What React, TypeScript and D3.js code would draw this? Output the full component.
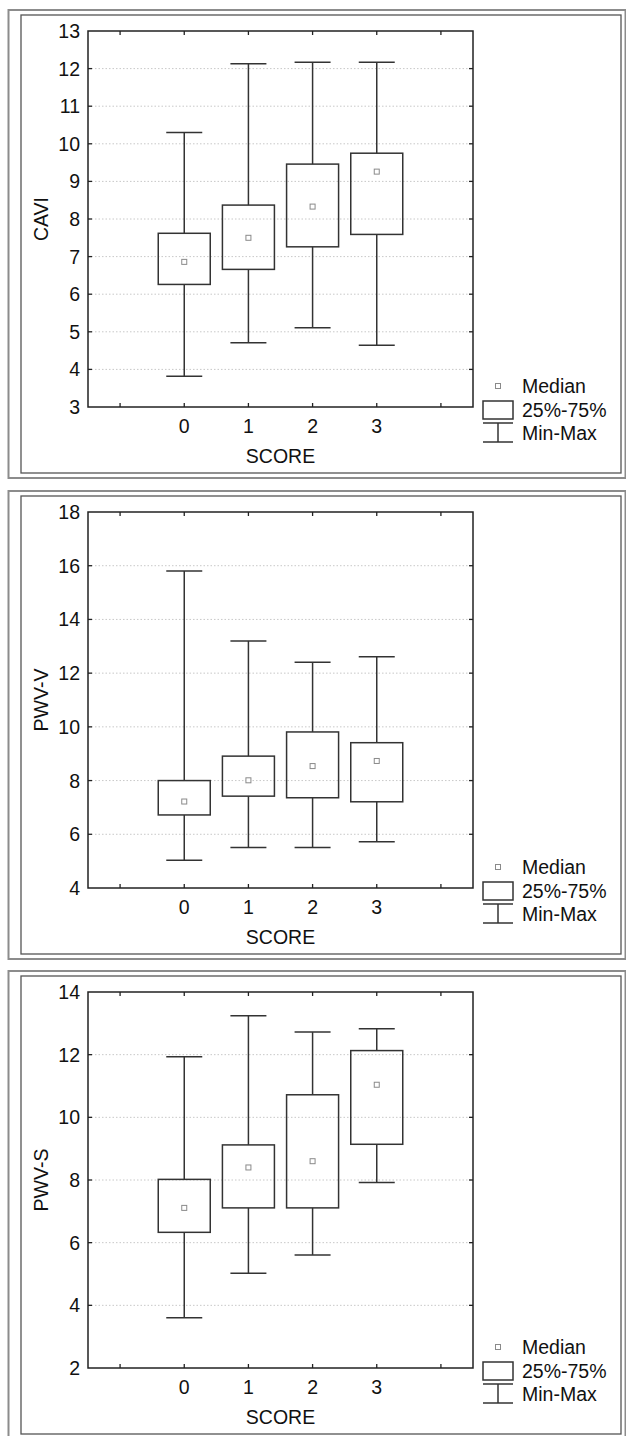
import React from "react";
import * as d3 from "d3";

const scores = ["0", "1", "2", "3"];

// CAVI
const caviMin = [3.82, 4.71, 5.11, 4.64];
const caviQ1 = [6.26, 6.66, 7.26, 7.59];
const caviMed = [6.86, 7.5, 8.33, 9.26];
const caviQ3 = [7.62, 8.37, 9.46, 9.75];
const caviMax = [10.3, 12.13, 12.17, 12.17];

// PWV-V
const pwvvMin = [5.03, 5.51, 5.51, 5.72];
const pwvvQ1 = [6.72, 7.42, 7.36, 7.21];
const pwvvMed = [7.22, 8.01, 8.54, 8.73];
const pwvvQ3 = [8.0, 8.91, 9.81, 9.41];
const pwvvMax = [15.8, 13.2, 12.41, 12.61];

// PWV-S
const pwvsMin = [3.6, 5.02, 5.61, 7.92];
const pwvsQ1 = [6.33, 7.11, 7.11, 9.14];
const pwvsMed = [7.11, 8.4, 8.6, 11.04];
const pwvsQ3 = [8.02, 9.12, 10.72, 12.13];
const pwvsMax = [11.93, 13.24, 12.72, 12.83];

const caviTicks = [3, 4, 5, 6, 7, 8, 9, 10, 11, 12, 13];
const pwvvTicks = [4, 6, 8, 10, 12, 14, 16, 18];
const pwvsTicks = [2, 4, 6, 8, 10, 12, 14];

const panels = [
  { label: "CAVI", ticks: caviTicks, min: caviMin, q1: caviQ1, med: caviMed, q3: caviQ3, max: caviMax },
  { label: "PWV-V", ticks: pwvvTicks, min: pwvvMin, q1: pwvvQ1, med: pwvvMed, q3: pwvvQ3, max: pwvvMax },
  { label: "PWV-S", ticks: pwvsTicks, min: pwvsMin, q1: pwvsQ1, med: pwvsMed, q3: pwvsQ3, max: pwvsMax },
];

const W = 626;
const H = 1436;
const panelTops = [10, 491, 971];
const font = "'Liberation Sans', Arial, sans-serif";
const fs = 19.5;
const line = "#333";

const Panel = ({ p, top }) => {
  const left = 88;
  const right = 473;
  const pTop = top + 21;
  const pBot = pTop + 376;
  const x = d3.scaleLinear().domain([-1.5, 4.5]).range([left, right]);
  const y = d3
    .scaleLinear()
    .domain(d3.extent(p.ticks) as [number, number])
    .range([pBot, pTop]);
  const xTicks = [-1, 0, 1, 2, 3, 4];
  const inner = p.ticks.slice(1, -1);
  const bw = 26;
  const cw = 18;
  const lx = 498;

  return (
    <g>
      <rect x={8.5} y={top} width={617} height={pBot + 71 - top} fill="none" stroke="#8c8c8c" strokeWidth={2} />
      <rect x={21} y={top + 5} width={600} height={pBot + 66 - top - 5} fill="#fff" stroke="#555" strokeWidth={1.3} />

      {inner.map((t) => (
        <line key={"g" + t} x1={left} x2={right} y1={y(t)} y2={y(t)} stroke="#c8c8c8" strokeDasharray="1.5,2" />
      ))}

      {/* ticks, inward on all four sides */}
      {inner.map((t) => (
        <g key={"yt" + t} stroke="#222" strokeWidth={1.3}>
          <line x1={left} x2={left + 4} y1={y(t)} y2={y(t)} />
          <line x1={right} x2={right - 4} y1={y(t)} y2={y(t)} />
        </g>
      ))}
      {xTicks.map((t) => (
        <g key={"xt" + t} stroke="#222" strokeWidth={1.3}>
          <line x1={x(t)} x2={x(t)} y1={pTop} y2={pTop + 4} />
          <line x1={x(t)} x2={x(t)} y1={pBot} y2={pBot - 4} />
        </g>
      ))}

      {p.ticks.map((t) => (
        <text key={"yl" + t} x={80} y={y(t)} dy="0.36em" textAnchor="end" fontSize={fs} fontFamily={font} fill="#111">
          {t}
        </text>
      ))}
      {scores.map((s, i) => (
        <text key={"xl" + s} x={x(i)} y={pBot + 26} textAnchor="middle" fontSize={fs} fontFamily={font} fill="#111">
          {s}
        </text>
      ))}
      <text x={(left + right) / 2} y={pBot + 56} textAnchor="middle" fontSize={fs} fontFamily={font} fill="#111">
        SCORE
      </text>
      <text
        transform={`translate(41,${(pTop + pBot) / 2}) rotate(-90)`}
        dy="0.36em"
        textAnchor="middle"
        fontSize={fs}
        fontFamily={font}
        fill="#111"
      >
        {p.label}
      </text>

      {scores.map((s, i) => {
        const cx = x(i);
        return (
          <g key={"b" + s} stroke={line} strokeWidth={1.5} fill="none">
            <line x1={cx} x2={cx} y1={y(p.max[i])} y2={y(p.q3[i])} />
            <line x1={cx} x2={cx} y1={y(p.q1[i])} y2={y(p.min[i])} />
            <line x1={cx - cw} x2={cx + cw} y1={y(p.max[i])} y2={y(p.max[i])} />
            <line x1={cx - cw} x2={cx + cw} y1={y(p.min[i])} y2={y(p.min[i])} />
            <rect x={cx - bw} y={y(p.q3[i])} width={bw * 2} height={y(p.q1[i]) - y(p.q3[i])} />
            <rect x={cx - 2.5} y={y(p.med[i]) - 2.5} width={5} height={5} stroke="#8a8a8a" strokeWidth={1} fill="#fff" />
          </g>
        );
      })}

      <rect x={left} y={pTop} width={right - left} height={pBot - pTop} fill="none" stroke="#222" strokeWidth={1.5} />

      {/* legend */}
      <rect x={lx - 2.5} y={pBot - 23.5} width={5} height={5} stroke="#8a8a8a" fill="#fff" />
      <text x={522} y={pBot - 14} fontSize={fs} fontFamily={font} fill="#111">Median</text>
      <rect x={483} y={pBot - 6} width={30} height={18} fill="none" stroke={line} strokeWidth={1.5} />
      <text x={522} y={pBot + 10} fontSize={fs} fontFamily={font} fill="#111">25%-75%</text>
      <g stroke={line} strokeWidth={1.5}>
        <line x1={483} x2={513} y1={pBot + 16} y2={pBot + 16} />
        <line x1={483} x2={513} y1={pBot + 35} y2={pBot + 35} />
        <line x1={lx} x2={lx} y1={pBot + 16} y2={pBot + 35} />
      </g>
      <text x={522} y={pBot + 33} fontSize={fs} fontFamily={font} fill="#111">Min-Max</text>
    </g>
  );
};

export default function App() {
  return (
    <svg width={W} height={H} style={{ position: "absolute", left: 0, top: 0, background: "#fff" }}>
      {panels.map((p, i) => (
        <Panel key={p.label} p={p} top={panelTops[i]} />
      ))}
    </svg>
  );
}
